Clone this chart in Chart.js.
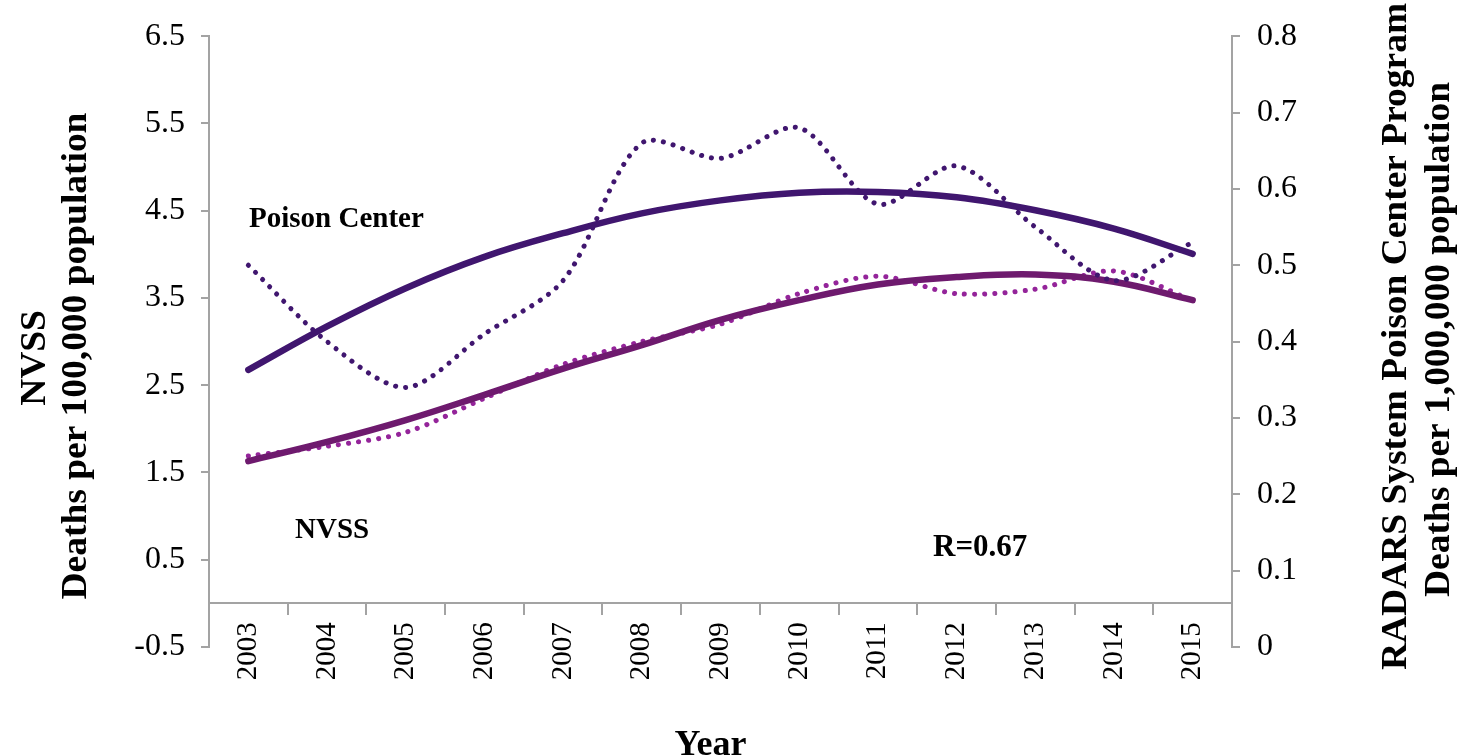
<!DOCTYPE html>
<html>
<head>
<meta charset="utf-8">
<script src="https://cdn.jsdelivr.net/npm/chart.js@4.4.1/dist/chart.umd.min.js"></script>
<style>
  html, body { margin: 0; padding: 0; background: #fff; }
  #wrap { width: 1459px; height: 756px; }
</style>
</head>
<body>
<div id="wrap"><canvas id="chart" width="1459" height="756"></canvas></div>
<script>
// ─── DATA ───────────────────────────────────────────────────────
const years = ['2003', '2004', '2005', '2006', '2007', '2008', '2009', '2010', '2011', '2012', '2013', '2014', '2015'];

// RADARS poison center, deaths per 1,000,000 (right axis)
const poisonCenter = [0.50, 0.40, 0.34, 0.41, 0.48, 0.66, 0.64, 0.68, 0.58, 0.63, 0.55, 0.48, 0.53];
const poisonTrend = [0.363, 0.42, 0.47, 0.511, 0.542, 0.568, 0.585, 0.595, 0.596, 0.589, 0.572, 0.548, 0.515];

// NVSS, deaths per 100,000 (left axis)
const nvss = [1.69, 1.80, 1.96, 2.35, 2.74, 3.00, 3.20, 3.55, 3.75, 3.55, 3.60, 3.81, 3.47];
const nvssTrend = [1.63, 1.85, 2.10, 2.39, 2.69, 2.96, 3.25, 3.475, 3.655, 3.74, 3.77, 3.685, 3.475];

const leftTicks = [-0.5, 0.5, 1.5, 2.5, 3.5, 4.5, 5.5, 6.5];
const leftTickLabels = ['-0.5', '0.5', '1.5', '2.5', '3.5', '4.5', '5.5', '6.5'];
const rightTicks = [0, 0.1, 0.2, 0.3, 0.4, 0.5, 0.6, 0.7, 0.8];
const rightTickLabels = ['0', '0.1', '0.2', '0.3', '0.4', '0.5', '0.6', '0.7', '0.8'];

// ─── STYLE ──────────────────────────────────────────────────────
const SERIF = "'Liberation Serif', 'Times New Roman', serif";
const GREY = '#a3a3a3';
const POISON = '#40166f';
const NVSS_LINE = '#6e1a6e';
const NVSS_DOTS = '#94249a';

const yTickFont = { family: SERIF, size: 32 };
const xTickFont = { family: SERIF, size: 29 };

// vertical text reading bottom-to-top, stretched along its length by k
function vText(ctx, text, x, y, k, align) {
  ctx.save();
  ctx.translate(x, y);
  ctx.rotate(-Math.PI / 2);
  ctx.scale(k, 1);
  ctx.textAlign = align;
  ctx.fillText(text, 0, 0);
  ctx.restore();
}

// axis titles + in-plot labels
const labelsPlugin = {
  id: 'labels',
  afterDraw(chart) {
    const { ctx, chartArea } = chart;
    ctx.save();
    ctx.fillStyle = '#000';
    ctx.textBaseline = 'middle';
    ctx.font = `bold 35px ${SERIF}`;
    vText(ctx, 'NVSS', 36, 358, 1.07, 'center');
    vText(ctx, 'Deaths per 100,000 population', 77, 356, 1.07, 'center');
    vText(ctx, 'RADARS System Poison Center Program', 1397, 670, 1.07, 'left');
    vText(ctx, 'Deaths per 1,000,000 population', 1440, 597, 1.07, 'left');

    ctx.textAlign = 'center';
    ctx.textBaseline = 'alphabetic';
    ctx.font = `bold 36px ${SERIF}`;
    ctx.fillText('Year', (chartArea.left + chartArea.right) / 2 - 10, 755);

    ctx.textAlign = 'left';
    ctx.font = `bold 29px ${SERIF}`;
    ctx.fillText('Poison Center', chartArea.left + 40, 227);
    ctx.fillText('NVSS', chartArea.left + 86, 538);
    ctx.font = `bold 31px ${SERIF}`;
    ctx.fillText('R=0.67', chartArea.left + 724, 556);
    ctx.restore();
  },
};

const dotted = {
  borderWidth: 5,
  borderDash: [0.1, 10],
  borderCapStyle: 'round',
  borderJoinStyle: 'round',
  pointRadius: 0,
  tension: 0.3,
  fill: false,
};
const solid = {
  borderWidth: 6.5,
  borderCapStyle: 'round',
  borderJoinStyle: 'round',
  pointRadius: 0,
  tension: 0.4,
  fill: false,
};

new Chart(document.getElementById('chart'), {
  type: 'line',
  data: {
    labels: years,
    datasets: [
      { label: 'Poison Center', data: poisonCenter, borderColor: POISON, yAxisID: 'y1', ...dotted },
      { label: 'Poison Center trend', data: poisonTrend, borderColor: POISON, yAxisID: 'y1', ...solid },
      { label: 'NVSS trend', data: nvssTrend, borderColor: NVSS_LINE, yAxisID: 'y', ...solid },
      { label: 'NVSS', data: nvss, borderColor: NVSS_DOTS, yAxisID: 'y', ...dotted },
    ],
  },
  options: {
    responsive: false,
    animation: false,
    layout: { padding: { left: 0, right: 0, top: 36, bottom: 109 } },
    plugins: { legend: { display: false }, tooltip: { enabled: false } },
    scales: {
      x: {
        type: 'category',
        position: { y: 0 },
        offset: true,
        grid: { offset: true, drawOnChartArea: false, drawTicks: true, tickLength: 11, color: GREY, lineWidth: 2 },
        border: { display: true, color: GREY, width: 2 },
        ticks: { font: xTickFont, color: '#000', minRotation: 90, maxRotation: 90, padding: 8, autoSkip: false },
      },
      y: {
        position: 'left',
        min: -0.5,
        max: 6.5,
        afterBuildTicks: (s) => { s.ticks = leftTicks.map(v => ({ value: v })); },
        afterFit: (s) => { s.width = 209; },
        grid: { drawOnChartArea: false, tickLength: 8, color: GREY, lineWidth: 2 },
        border: { display: true, color: GREY, width: 2 },
        ticks: { font: yTickFont, color: '#000', padding: 16, callback: (v, i) => leftTickLabels[i] },
      },
      y1: {
        position: 'right',
        min: 0,
        max: 0.8,
        afterBuildTicks: (s) => { s.ticks = rightTicks.map(v => ({ value: v })); },
        afterFit: (s) => { s.width = 1459 - 1232; },
        grid: { drawOnChartArea: false, tickLength: 8, color: GREY, lineWidth: 2 },
        border: { display: true, color: GREY, width: 2 },
        ticks: { font: yTickFont, color: '#000', padding: 17, callback: (v, i) => rightTickLabels[i] },
      },
    },
  },
  plugins: [labelsPlugin],
});
</script>
</body>
</html>
